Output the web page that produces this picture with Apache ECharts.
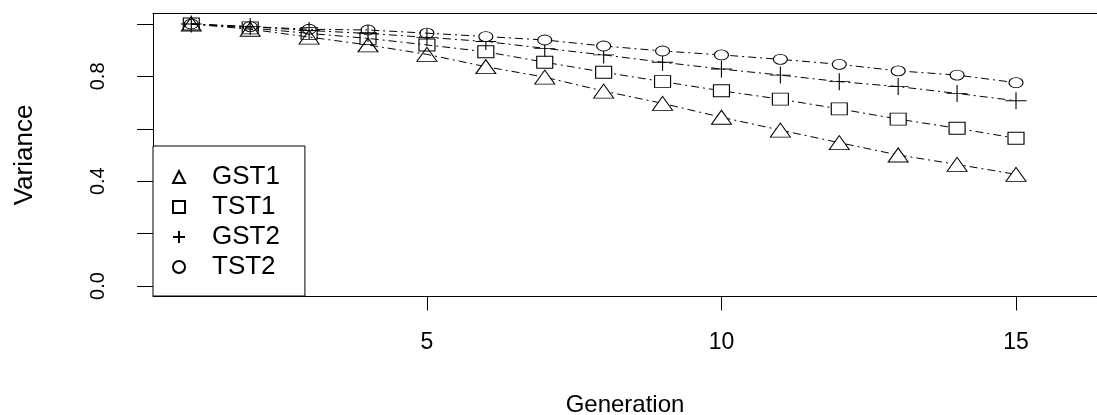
<!DOCTYPE html>
<html>
<head>
<meta charset="utf-8">
<script src="https://cdn.jsdelivr.net/npm/echarts@6/dist/echarts.min.js"></script>
<style>
  html, body { margin: 0; padding: 0; background: #fff; }
  #chart { width: 1097px; height: 415px; }
</style>
</head>
<body>
<div id="chart"></div>
<script>
// generations on the x axis
const generations = [1, 2, 3, 4, 5, 6, 7, 8, 9, 10, 11, 12, 13, 14, 15];

// variance per generation
const gst1 = [1.0, 0.98, 0.95, 0.92, 0.884, 0.837, 0.797, 0.744, 0.697, 0.644, 0.595, 0.547, 0.5, 0.464, 0.426];
const tst1 = [1.0, 0.985, 0.964, 0.945, 0.92, 0.894, 0.854, 0.816, 0.78, 0.745, 0.713, 0.676, 0.637, 0.602, 0.564];
const gst2 = [1.0, 0.99, 0.975, 0.964, 0.949, 0.933, 0.907, 0.882, 0.854, 0.828, 0.805, 0.78, 0.761, 0.735, 0.707];
const tst2 = [1.0, 0.99, 0.98, 0.977, 0.965, 0.952, 0.939, 0.916, 0.897, 0.882, 0.865, 0.846, 0.821, 0.805, 0.776];

// ticks
const xTicks = [5, 10, 15];
const yTicks = [0, 0.2, 0.4, 0.6, 0.8, 1.0];
const yLabels = [0, 0.4, 0.8];

const FONT = "'Liberation Sans', Arial, sans-serif";
const plusPath = "path://M10,0L10,20M0,10L20,10";
const X_MIN = 0.35;
const X_MAX = 16.375;

function pairs(values) {
  // once the markers stop overlapping, fill them white so the line stops at the edge
  return generations.map((g, i) => ({
    value: [g, values[i]],
    itemStyle: g >= 6 ? { color: "#fff" } : undefined,
  }));
}

function makeSeries(name, values, symbol, size) {
  return {
    name: name,
    type: "line",
    data: pairs(values),
    symbol: symbol,
    symbolSize: size,
    itemStyle: { color: "transparent", borderColor: "#000", borderWidth: 1 },
    lineStyle: { color: "#000", width: 1, type: [8, 4, 2, 4] },
    emphasis: { disabled: true },
  };
}

const myChart = echarts.init(document.getElementById("chart"));
const option = {
  animation: false,
  textStyle: { fontFamily: FONT, color: "#000" },
  grid: { left: 153, top: 13.5, right: 0, height: 283, outerBoundsMode: "none" },
  legend: {
    orient: "vertical",
    left: 153,
    top: 146,
    padding: [18, 25, 16, 19],
    itemWidth: 12,
    itemHeight: 12,
    itemGap: 4,
    borderColor: "#000",
    borderWidth: 1,
    backgroundColor: "#fff",
    borderRadius: 0,
    textStyle: { fontSize: 26, color: "#000", fontFamily: FONT, padding: [0, 0, 0, 22] },
    data: [
      { name: "GST1", icon: "triangle" },
      { name: "TST1", icon: "rect" },
      { name: "GST2", icon: plusPath },
      { name: "TST2", icon: "circle" },
    ],
  },
  xAxis: [
    {
      type: "value",
      min: X_MIN,
      max: X_MAX,
      name: "Generation",
      nameLocation: "middle",
      nameGap: 97,
      nameTextStyle: { fontSize: 24, color: "#000", fontFamily: FONT },
      splitLine: { show: false },
      axisLine: { show: true, onZero: false, lineStyle: { color: "#000", width: 1 } },
      axisTick: { show: true, length: 14, customValues: xTicks, lineStyle: { color: "#000" } },
      axisLabel: { customValues: xTicks, margin: 35, fontSize: 23, color: "#000", fontFamily: FONT },
    },
    {
      // top edge of the box
      type: "value",
      position: "top",
      min: X_MIN,
      max: X_MAX,
      splitLine: { show: false },
      axisLine: { show: true, onZero: false, lineStyle: { color: "#000", width: 1 } },
      axisTick: { show: false },
      axisLabel: { show: false },
    },
  ],
  yAxis: {
    type: "value",
    min: -0.04,
    max: 1.04,
    name: "Variance",
    nameLocation: "middle",
    nameRotate: 90,
    nameGap: 115,
    nameTextStyle: { fontSize: 26, color: "#000", fontFamily: FONT },
    splitLine: { show: false },
    axisLine: { show: true, onZero: false, lineStyle: { color: "#000", width: 1 } },
    axisTick: { show: true, length: 16, customValues: yTicks, lineStyle: { color: "#000" } },
    axisLabel: {
      customValues: yLabels,
      rotate: 90,
      margin: 45,
      fontSize: 20,
      color: "#000",
      fontFamily: FONT,
      formatter: (v) => v.toFixed(1),
    },
  },
  series: [
    makeSeries("GST1", gst1, "triangle", [20, 14]),
    makeSeries("TST1", tst1, "rect", [16, 12]),
    makeSeries("GST2", gst2, plusPath, [21, 17]),
    makeSeries("TST2", tst2, "circle", [14, 10]),
  ],
};
myChart.setOption(option);
</script>
</body>
</html>
